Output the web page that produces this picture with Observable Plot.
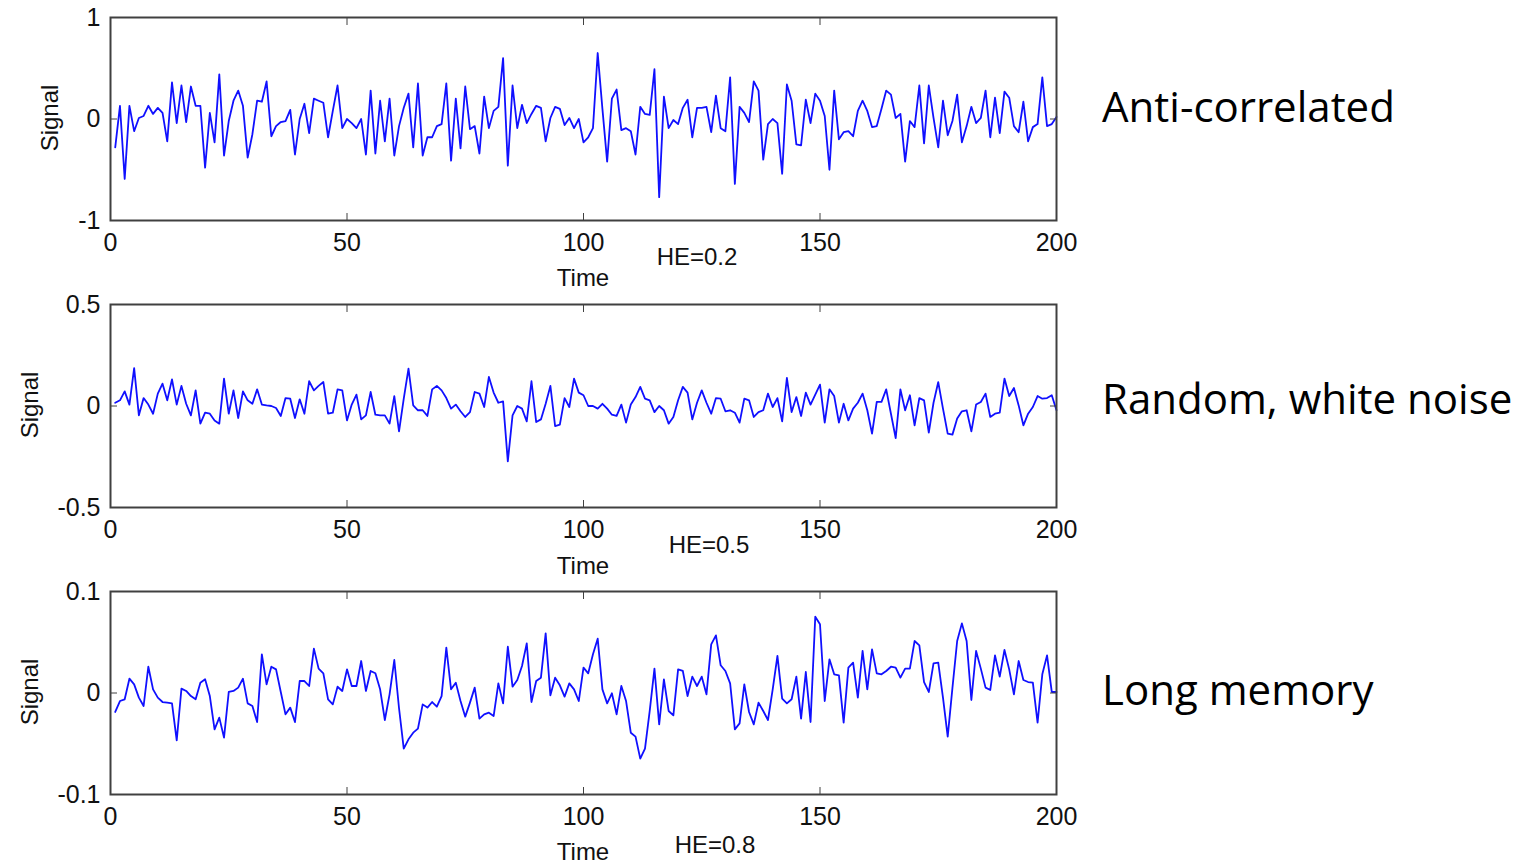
<!DOCTYPE html>
<html>
<head>
<meta charset="utf-8">
<script src="https://cdn.jsdelivr.net/npm/d3@7"></script>
<script src="https://cdn.jsdelivr.net/npm/@observablehq/plot@0.6"></script>
<style>
  html, body { margin: 0; padding: 0; background: #fff; }
  #wrap { position: relative; width: 1521px; height: 865px; overflow: hidden; font-family: "Liberation Sans", Arial, sans-serif; }
  .panel { position: absolute; left: 0; }
  .lbl { position: absolute; white-space: nowrap; color: #111; transform: translate(-50%, -50%); font-size: 24px; }
  .ylab { position: absolute; white-space: nowrap; color: #111; transform: translate(-50%, -50%) rotate(-90deg); font-size: 24px; }
  .side { position: absolute; white-space: nowrap; color: #000; transform: translate(0, -50%); font-family: "Open Sans", sans-serif; font-size: 42px; }
</style>
</head>
<body>
<div id="wrap"></div>
<script>
// ---- data ----
const xTicks = [0, 50, 100, 150, 200];
const panelNames = ["Anti-correlated", "Random, white noise", "Long memory"];
const heLabels = ["HE=0.2", "HE=0.5", "HE=0.8"];
const yTicks1 = [-1, 0, 1];
const yTicks2 = [-0.5, 0, 0.5];
const yTicks3 = [-0.1, 0, 0.1];

const signalHE02 = [
  -0.28, 0.13, -0.59, 0.13, -0.12, 0.01, 0.03, 0.13, 0.05, 0.11,
  0.06, -0.22, 0.36, -0.04, 0.33, -0.03, 0.32, 0.13, 0.13, -0.48,
  0.06, -0.23, 0.44, -0.36, -0.02, 0.18, 0.28, 0.13, -0.38, -0.15,
  0.18, 0.17, 0.37, -0.17, -0.07, -0.03, -0.02, 0.09, -0.35, 0.0,
  0.15, -0.14, 0.2, 0.18, 0.16, -0.18, 0.08, 0.33, -0.09, 0.0,
  -0.04, -0.09, 0.0, -0.35, 0.28, -0.34, 0.18, -0.22, 0.2, -0.36,
  -0.07, 0.11, 0.25, -0.28, 0.35, -0.36, -0.18, -0.18, -0.07, -0.05,
  0.35, -0.41, 0.2, -0.29, 0.32, -0.1, -0.07, -0.34, 0.22, -0.09,
  0.08, 0.12, 0.6, -0.46, 0.33, -0.09, 0.14, -0.04, 0.05, 0.13,
  0.11, -0.22, 0.01, 0.12, 0.1, -0.06, 0.01, -0.09, 0.0, -0.23,
  -0.18, -0.09, 0.65, 0.1, -0.42, 0.2, 0.29, -0.11, -0.09, -0.12,
  -0.35, 0.12, 0.05, 0.04, 0.49, -0.77, 0.22, -0.09, -0.01, -0.05,
  0.11, 0.19, -0.18, 0.11, 0.11, 0.12, -0.13, 0.23, -0.09, -0.12,
  0.41, -0.64, 0.12, 0.06, -0.03, 0.37, 0.28, -0.4, -0.05, 0.0,
  -0.04, -0.54, 0.34, 0.18, -0.25, -0.26, 0.19, -0.04, 0.25, 0.18,
  0.03, -0.5, 0.28, -0.2, -0.13, -0.12, -0.17, 0.08, 0.18, 0.08,
  -0.08, -0.07, 0.1, 0.28, 0.24, 0.01, 0.05, -0.42, -0.02, -0.08,
  0.33, -0.24, 0.33, 0.01, -0.28, 0.18, -0.16, -0.02, 0.24, -0.23,
  -0.07, 0.12, -0.04, 0.01, 0.28, -0.18, 0.21, -0.14, 0.27, 0.21,
  -0.07, -0.13, 0.17, -0.22, -0.08, -0.05, 0.41, -0.07, -0.05, 0.02
];

const signalHE05 = [
  0.016, 0.028, 0.072, 0.007, 0.187, -0.046, 0.039, 0.007, -0.038, 0.061,
  0.11, 0.028, 0.131, 0.007, 0.099, 0.011, -0.046, 0.077, -0.087, -0.033,
  -0.038, -0.071, -0.087, 0.135, -0.038, 0.077, -0.059, 0.072, 0.028, 0.011,
  0.082, 0.007, 0.003, 0.0, -0.01, -0.049, 0.039, 0.036, -0.059, 0.033,
  -0.038, 0.122, 0.077, 0.099, 0.118, -0.038, -0.033, 0.082, 0.077, -0.071,
  0.007, 0.056, -0.066, -0.046, 0.069, -0.043, -0.046, -0.046, -0.087, 0.049,
  -0.125, 0.036, 0.184, 0.003, -0.021, -0.021, -0.049, 0.082, 0.099, 0.077,
  0.039, -0.013, 0.007, -0.026, -0.054, -0.03, 0.069, 0.061, -0.005, 0.143,
  0.066, 0.016, 0.023, -0.273, -0.046, 0.0, -0.013, -0.076, 0.122, -0.079,
  -0.066, 0.011, 0.099, -0.099, -0.092, 0.039, -0.005, 0.135, 0.066, 0.053,
  0.0, 0.0, -0.013, 0.011, -0.013, -0.043, -0.049, 0.007, -0.082, 0.007,
  0.044, 0.094, 0.036, 0.028, -0.03, 0.0, -0.021, -0.087, -0.054, 0.028,
  0.094, 0.066, -0.066, 0.016, 0.077, 0.016, -0.038, 0.039, 0.036, -0.026,
  -0.021, -0.033, -0.082, 0.036, 0.028, -0.054, -0.03, -0.021, 0.061, -0.005,
  0.039, -0.076, 0.138, -0.03, 0.044, -0.049, 0.066, 0.007, 0.056, 0.105,
  -0.082, 0.082, 0.049, -0.082, 0.011, -0.071, -0.013, 0.016, 0.061, -0.021,
  -0.136, 0.02, 0.02, 0.082, -0.038, -0.158, 0.082, -0.021, 0.053, -0.095,
  0.039, 0.028, -0.131, 0.016, 0.118, -0.013, -0.136, -0.141, -0.062, -0.026,
  -0.021, -0.125, 0.007, 0.02, 0.061, -0.054, -0.038, -0.033, 0.135, 0.049,
  0.089, 0.003, -0.095, -0.038, -0.005, 0.049, 0.036, 0.039, 0.053, -0.021
];

const signalHE08 = [
  -0.0187, -0.0079, -0.0062, 0.0141, 0.0085, -0.0046, -0.0128, 0.0259, 0.0036, -0.0046,
  -0.0089, -0.0095, -0.0102, -0.0466, 0.0043, 0.0020, -0.0030, -0.0062, 0.0102, 0.0135,
  -0.0030, -0.0358, -0.0243, -0.0440, 0.0010, 0.0020, 0.0053, 0.0141, -0.0102, -0.0128,
  -0.0286, 0.0381, 0.0085, 0.0259, 0.0233, 0.0010, -0.0210, -0.0144, -0.0286, 0.0118,
  0.0118, 0.0069, 0.0437, 0.0240, 0.0194, -0.0062, -0.0112, 0.0062, 0.0020, 0.0233,
  0.0069, 0.0069, 0.0315, 0.0020, 0.0217, 0.0194, 0.0036, -0.0266, -0.0013, 0.0325,
  -0.0150, -0.0548, -0.0456, -0.0391, -0.0351, -0.0112, -0.0144, -0.0089, -0.0135, -0.0030,
  0.0447, 0.0036, 0.0102, -0.0079, -0.0233, -0.0095, 0.0053, -0.0253, -0.0210, -0.0194,
  -0.0227, 0.0095, -0.0102, 0.0456, 0.0062, 0.0128, 0.0266, 0.0489, -0.0089, 0.0118,
  0.0151, 0.0588, -0.0023, 0.0151, 0.0076, -0.0036, 0.0095, 0.0036, -0.0079, 0.0250,
  0.0194, 0.0381, 0.0535, 0.0036, -0.0102, -0.0003, -0.0210, 0.0069, -0.0079, -0.0391,
  -0.0430, -0.0647, -0.0548, -0.0177, 0.0240, -0.0309, 0.0135, -0.0177, -0.0220, 0.0233,
  0.0217, -0.0030, 0.0161, 0.0069, 0.0161, -0.0013, 0.0479, 0.0568, 0.0273, 0.0217,
  0.0095, -0.0358, -0.0299, 0.0085, -0.0187, -0.0309, -0.0095, -0.0177, -0.0266, 0.0036,
  0.0365, -0.0056, -0.0102, -0.0062, 0.0161, -0.0253, 0.0207, -0.0286, 0.0752, 0.0677,
  -0.0079, 0.0332, 0.0184, 0.0174, -0.0292, 0.0250, 0.0299, -0.0046, 0.0414, 0.0036,
  0.0430, 0.0194, 0.0184, 0.0217, 0.0259, 0.0250, 0.0151, 0.0240, 0.0240, 0.0512,
  0.0470, 0.0108, 0.0010, 0.0292, 0.0299, -0.0046, -0.0430, 0.0050, 0.0512, 0.0686,
  0.0512, -0.0069, 0.0414, 0.0240, 0.0053, 0.0030, 0.0371, 0.0161, 0.0424, 0.0233,
  -0.0013, 0.0315, 0.0128, 0.0108, 0.0102, -0.0292, 0.0184, 0.0371, 0.0010, 0.0010
];

const series = [signalHE02, signalHE05, signalHE08];
const yTickSets = [yTicks1, yTicks2, yTicks3];

// ---- layout ----
const wrap = document.getElementById("wrap");
const panelTop = [0, 287, 574];
const W = 1100, H = 287;

series.forEach((vals, i) => {
  const data = vals.map((v, k) => ({t: k + 1, v}));
  const yt = yTickSets[i];
  const yDomain = [yt[0], yt[yt.length - 1]];
  const chart = Plot.plot({
    width: W,
    height: H,
    marginLeft: 110,
    marginRight: 44,
    marginTop: 17,
    marginBottom: 67,
    style: {fontSize: "25px", fontFamily: "Liberation Sans, Arial, sans-serif", color: "#111", background: "transparent", overflow: "visible"},
    x: {domain: [0, 200]},
    y: {domain: yDomain},
    marks: [
      Plot.line(data, {x: "t", y: "v", stroke: "#1010ff", strokeWidth: 1.8}),
      Plot.frame({stroke: "#404040", strokeWidth: 2}),
      Plot.axisX({anchor: "bottom", ticks: xTicks, tickSize: -7, tickPadding: 20, tickFormat: d => String(d), label: null, stroke: "#404040"}),
      Plot.axisX({anchor: "top", ticks: xTicks, tickSize: -7, tickFormat: () => "", label: null, stroke: "#404040"}),
      Plot.axisY({anchor: "left", ticks: yt, tickSize: -7, tickPadding: 17, tickFormat: d => String(d), label: null, stroke: "#404040"}),
      Plot.axisY({anchor: "right", ticks: yt, tickSize: -7, tickFormat: () => "", label: null, stroke: "#404040"})
    ]
  });
  const div = document.createElement("div");
  div.className = "panel";
  div.style.top = panelTop[i] + "px";
  div.appendChild(chart);
  wrap.appendChild(div);
});

function addLabel(cls, text, left, top) {
  const d = document.createElement("div");
  d.className = cls;
  d.textContent = text;
  d.style.left = left + "px";
  d.style.top = top + "px";
  wrap.appendChild(d);
}

const signalPos = [[50, 118], [30, 405], [30, 692]];
const timePos = [[583, 278], [583, 566], [583, 852]];
const hePos = [[697, 257], [709, 545], [715, 845]];
const sidePos = [[1102, 105], [1102, 397], [1102, 688]];
for (let i = 0; i < 3; i++) {
  addLabel("ylab", "Signal", signalPos[i][0], signalPos[i][1]);
  addLabel("lbl", "Time", timePos[i][0], timePos[i][1]);
  addLabel("lbl", heLabels[i], hePos[i][0], hePos[i][1]);
  addLabel("side", panelNames[i], sidePos[i][0], sidePos[i][1]);
}
</script>
</body>
</html>
